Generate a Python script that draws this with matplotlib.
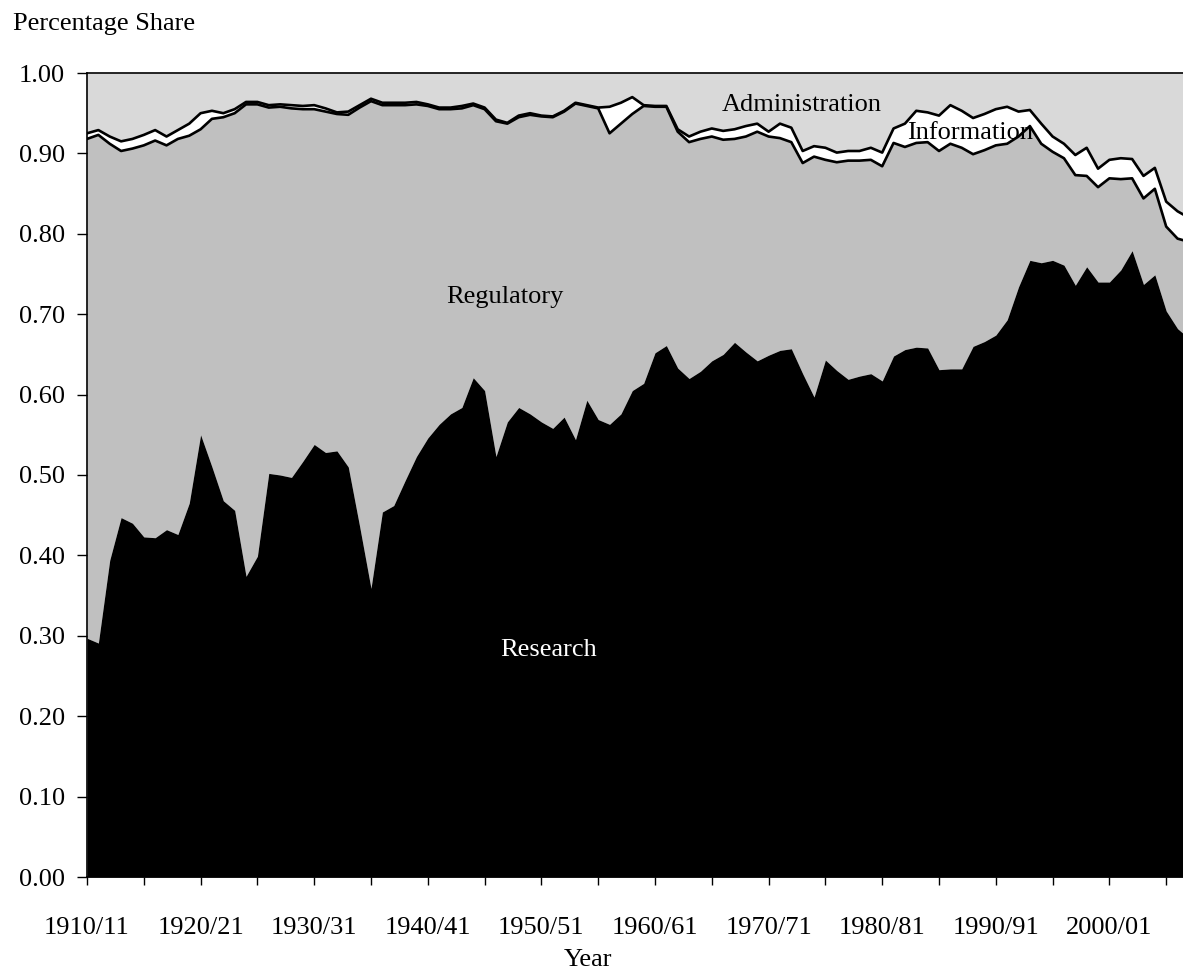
import matplotlib
matplotlib.use('Agg')

import matplotlib.pyplot as plt
import matplotlib.ticker as mticker
import numpy as np

# financial years, first year of each pair (1910 = 1910/11)
years = list(range(1910, 2008))

# share of research (top of black area)
research = [
    0.297, 0.291, 0.394, 0.447, 0.440, 0.423, 0.422, 0.432, 0.426, 0.465,
    0.550, 0.510, 0.468, 0.456, 0.374, 0.399, 0.502, 0.500, 0.497, 0.517,
    0.538, 0.528, 0.530, 0.510, 0.436, 0.359, 0.454, 0.462, 0.493, 0.523,
    0.546, 0.563, 0.576, 0.584, 0.621, 0.605, 0.523, 0.566, 0.584, 0.576,
    0.566, 0.558, 0.572, 0.544, 0.593, 0.569, 0.563, 0.576, 0.605, 0.614,
    0.652, 0.661, 0.633, 0.620, 0.629, 0.642, 0.650, 0.665, 0.653, 0.642,
    0.649, 0.655, 0.657, 0.626, 0.597, 0.643, 0.630, 0.619, 0.623, 0.626,
    0.617, 0.648, 0.656, 0.659, 0.658, 0.631, 0.632, 0.632, 0.660, 0.666,
    0.674, 0.693, 0.734, 0.767, 0.764, 0.767, 0.761, 0.736, 0.759, 0.740,
    0.740, 0.755, 0.779, 0.737, 0.749, 0.704, 0.682, 0.670,
]

# research + regulatory (cumulative)
research_regulatory = [
    0.918, 0.923, 0.912, 0.903, 0.906, 0.910, 0.916, 0.910, 0.918, 0.922,
    0.930, 0.943, 0.945, 0.950, 0.961, 0.961, 0.957, 0.958, 0.956, 0.955,
    0.955, 0.952, 0.949, 0.948, 0.957, 0.965, 0.960, 0.960, 0.960, 0.961,
    0.959, 0.955, 0.955, 0.956, 0.960, 0.955, 0.940, 0.937, 0.945, 0.948,
    0.946, 0.945, 0.952, 0.962, 0.959, 0.956, 0.925, 0.937, 0.949, 0.959,
    0.958, 0.958, 0.927, 0.914, 0.918, 0.921, 0.917, 0.918, 0.921, 0.927,
    0.921, 0.919, 0.914, 0.888, 0.896, 0.892, 0.889, 0.891, 0.891, 0.892,
    0.884, 0.913, 0.908, 0.913, 0.914, 0.903, 0.912, 0.907, 0.899, 0.904,
    0.910, 0.912, 0.921, 0.934, 0.912, 0.902, 0.894, 0.873, 0.872, 0.858,
    0.869, 0.868, 0.869, 0.844, 0.856, 0.809, 0.794, 0.790,
]

# research + regulatory + information (cumulative), administration fills to 1
research_regulatory_info = [
    0.925, 0.929, 0.921, 0.915, 0.918, 0.923, 0.929, 0.921, 0.929, 0.937,
    0.950, 0.953, 0.950, 0.955, 0.964, 0.964, 0.960, 0.961, 0.960, 0.959,
    0.960, 0.956, 0.951, 0.952, 0.960, 0.968, 0.963, 0.963, 0.963, 0.964,
    0.961, 0.957, 0.957, 0.959, 0.962, 0.957, 0.942, 0.938, 0.947, 0.950,
    0.947, 0.946, 0.953, 0.963, 0.960, 0.957, 0.958, 0.963, 0.970, 0.960,
    0.959, 0.959, 0.930, 0.921, 0.927, 0.931, 0.928, 0.930, 0.934, 0.937,
    0.927, 0.937, 0.932, 0.903, 0.909, 0.907, 0.901, 0.903, 0.903, 0.907,
    0.901, 0.931, 0.937, 0.953, 0.951, 0.947, 0.960, 0.953, 0.944, 0.949,
    0.955, 0.958, 0.952, 0.954, 0.937, 0.921, 0.912, 0.898, 0.907, 0.881,
    0.892, 0.894, 0.893, 0.872, 0.882, 0.840, 0.828, 0.820,
]

label_years = list(range(1910, 2001, 10))
tick_labels = ['%d/%02d' % (y, (y + 1) % 100) for y in label_years]

plt.rcParams['font.family'] = ['Liberation Serif', 'DejaVu Serif']
fs = 19

fig = plt.figure(figsize=(11.83, 9.74), dpi=100)
ax = fig.add_axes([87 / 1183, 97 / 974, 1 - 87 / 1183, 804 / 974])

x = np.array(years)
r = np.array(research)
rr = np.array(research_regulatory)
rri = np.array(research_regulatory_info)

ax.fill_between(x, rri, 1.0, color='#d9d9d9', lw=0)
ax.fill_between(x, rr, rri, color='white', lw=0)
ax.fill_between(x, r, rr, color='#c0c0c0', lw=0)
ax.fill_between(x, 0, r, color='black', lw=0)
ax.plot(x, rr, color='black', lw=1.9)
ax.plot(x, rri, color='black', lw=1.9)

ax.set_xlim(1910, 1910 + 1096 / 11.36)
ax.set_ylim(0, 1.0)

ax.xaxis.set_major_locator(mticker.FixedLocator(label_years))
ax.xaxis.set_major_formatter(mticker.FixedFormatter(tick_labels))
ax.xaxis.set_minor_locator(mticker.MultipleLocator(5))
ax.yaxis.set_major_locator(mticker.MultipleLocator(0.1))
ax.yaxis.set_major_formatter(mticker.FormatStrFormatter('%.2f'))

ax.tick_params(axis='x', which='both', direction='out', length=6, width=1,
               labelsize=fs, pad=23)
ax.tick_params(axis='y', direction='out', length=7, width=1,
               labelsize=fs, pad=9)

ax.spines['right'].set_visible(False)
for s in ['left', 'top', 'bottom']:
    ax.spines[s].set_linewidth(1.2)

ax.text(1950.6, 0.282, 'Research', color='white', fontsize=fs,
        ha='center', va='center')
ax.text(1946.8, 0.721, 'Regulatory', color='black', fontsize=fs,
        ha='center', va='center')
ax.text(1972.9, 0.960, 'Administration', color='black', fontsize=fs,
        ha='center', va='center')
ax.text(1987.7, 0.925, 'Information', color='black', fontsize=fs,
        ha='center', va='center')

fig.text(13 / 1183, 1 - 30 / 974, 'Percentage Share', fontsize=fs,
         ha='left', va='baseline')
fig.text(588 / 1183, 1 - 960 / 974, 'Year', fontsize=fs,
         ha='center', va='center')

plt.savefig('out.png', dpi=100)
